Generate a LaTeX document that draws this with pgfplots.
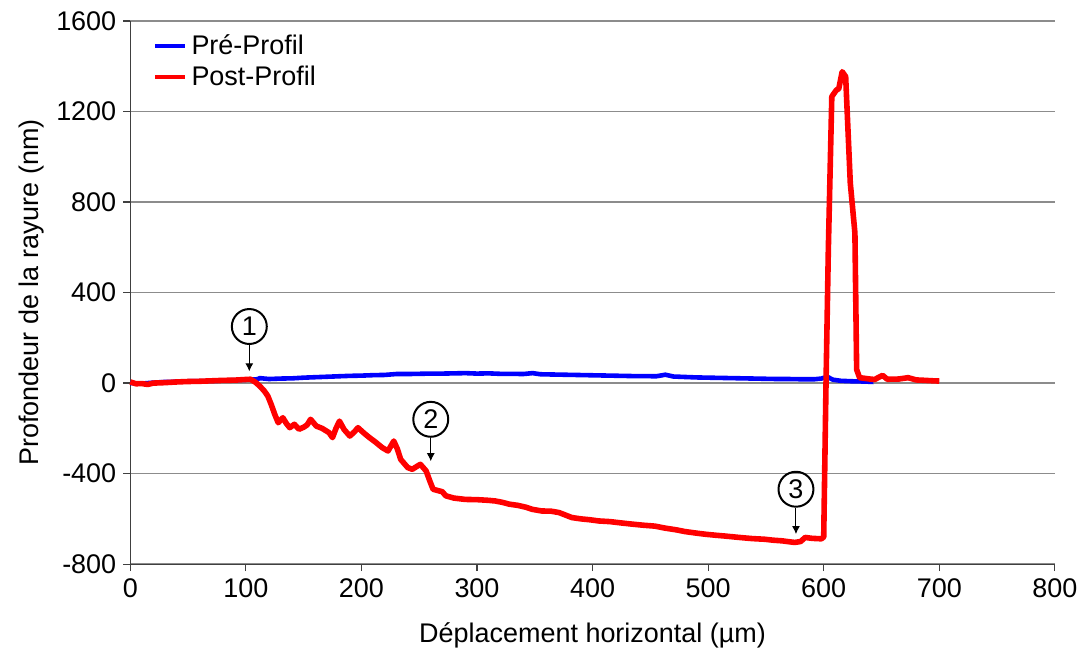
\documentclass[border=0pt]{standalone}
\usepackage{fontspec}
\setmainfont{Liberation Sans}
\usepackage{pgfplots}
\pgfplotsset{compat=1.18}
\usetikzlibrary{arrows.meta}
\begin{document}
\begin{tikzpicture}
\begin{axis}[
    scale only axis, width=463pt, height=272pt,
    xmin=0, xmax=800, ymin=-800, ymax=1600,
    xtick={0,100,...,800}, ytick={-800,-400,...,1600},
    axis x line*=bottom, axis y line*=left,
    axis line style={draw=black!75, line width=0.6pt},
    tick align=outside, major tick length=3.5pt,
    tick style={black!75, line width=0.6pt},
    ymajorgrids, grid style={gray!90, line width=0.8pt},
    /pgf/number format/assume math mode=true,
    /pgf/number format/1000 sep={},
    ticklabel style={font=\fontsize{13.5}{16}\selectfont},
    label style={font=\fontsize{13.5}{16}\selectfont},
    xlabel={Déplacement horizontal (µm)},
    ylabel={Profondeur de la rayure (nm)},
    xlabel style={yshift=-6pt},
    ylabel style={yshift=-1pt},
    legend style={draw=none, fill=none, at={(rel axis cs:0.02,0.99)}, anchor=north west,
        font=\fontsize{13.5}{16}\selectfont, row sep=0pt, inner sep=2pt},
    legend cell align=left,
    legend image code/.code={\draw[#1, line width=2.2pt] (0pt,0pt) -- (15pt,0pt);},
    clip=false,
]
\addplot[blue, line width=2.3pt, line join=round] coordinates {
(0,0) (10,-2) (20,2) (30,5) (40,6) (50,8) (60,8) (70,10) (80,11) (90,13)
(100,15) (110,17) (112,22) (120,18) (130,20) (140,21) (150,24) (160,26)
(170,28) (180,30) (190,32) (200,33) (210,35) (220,36) (230,40) (240,40)
(250,41) (260,42) (270,42) (280,43) (290,44) (300,42) (310,43) (320,41)
(330,41) (340,40) (348,44) (355,39) (365,38) (375,37) (385,36) (395,35)
(405,34) (415,33) (425,32) (435,31) (445,31) (455,30) (463,37) (470,29)
(480,27) (490,25) (500,24) (510,23) (520,22) (530,21) (540,20) (550,19)
(560,18) (570,18) (580,17) (592,17) (598,20) (603,28) (608,15) (615,10)
(625,8) (635,7) (643,5)
};
\addlegendentry{Pré-Profil}
\addplot[red, line width=2.8pt, line join=round] coordinates {
(0,5) (5,-3) (10,-2) (15,-6) (20,0) (30,2) (40,5) (50,7) (60,8) (70,10)
(80,12) (90,13) (100,16) (104,17) (108,5) (112,-13) (116,-35) (119,-57)
(122,-95) (125,-138) (128,-175) (132,-153) (135,-178) (138,-197) (142,-182)
(146,-204) (150,-195) (153,-185) (156,-160) (161,-190) (166,-200) (172,-219)
(175,-241) (178,-200) (181,-168) (185,-205) (190,-234) (194,-215) (197,-197)
(202,-220) (207,-241) (212,-260) (218,-285) (223,-300) (228,-256) (231,-290)
(234,-337) (240,-373) (244,-381) (248,-368) (251,-359) (256,-388) (259,-430)
(262,-469) (267,-476) (270,-480) (273,-498) (280,-508) (290,-514) (300,-515)
(310,-518) (316,-521) (322,-527) (328,-535) (335,-540) (342,-548) (348,-558)
(356,-565) (364,-566) (371,-572) (376,-582) (382,-594) (390,-600) (398,-604)
(405,-609) (415,-612) (425,-618) (434,-623) (444,-628) (454,-632) (463,-641)
(472,-648) (480,-656) (490,-663) (498,-668) (506,-672) (515,-676) (525,-681)
(538,-687) (549,-690) (556,-694) (564,-697) (570,-701) (575,-704) (580,-700)
(584,-682) (590,-686) (598,-688) (600,-680) (602,0) (604,590) (607,1266)
(611,1295) (613,1300) (616,1376) (619,1354) (623,884) (627,663) (628.5,60)
(631,24) (640,18) (644,16) (651,34) (655,17) (665,18) (673,24) (680,14)
(688,12) (695,10) (700,9)
};
\addlegendentry{Post-Profil}
% annotations
\tikzset{num/.style={circle, draw=black, line width=1pt, minimum size=17.5pt, inner sep=0pt,
    font=\fontsize{13.5}{16}\selectfont}}
\node[num] (c1) at (axis cs:103,250) {1};
\draw[line width=0.5pt, -{Latex[length=4pt,width=4pt]}] (c1.south) -- (axis cs:103,52);
\node[num] (c2) at (axis cs:260,-160) {2};
\draw[line width=0.5pt, -{Latex[length=4pt,width=4pt]}] (c2.south) -- (axis cs:260,-345);
\node[num] (c3) at (axis cs:576,-469) {3};
\draw[line width=0.5pt, -{Latex[length=4pt,width=4pt]}] (c3.south) -- (axis cs:576,-667);
\path (rel axis cs:-0.1409,-0.1654) rectangle (rel axis cs:1.0291,1.0386);
\end{axis}
\end{tikzpicture}
\end{document}
